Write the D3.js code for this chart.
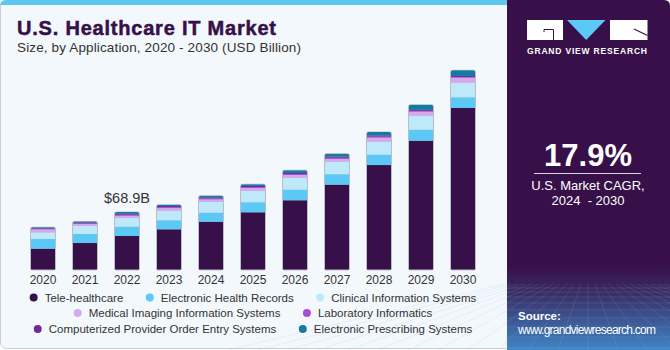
<!DOCTYPE html>
<html>
<head>
<meta charset="utf-8">
<script src="https://cdn.jsdelivr.net/npm/d3@7"></script>
<style>
  body { margin: 0; background: #fff; }
  text { font-family: "Liberation Sans", Arial, sans-serif; }
</style>
</head>
<body>
<div id="chart"></div>
<script>
/* U.S. Healthcare IT Market, stacked bars by application */

const years = ["2020", "2021", "2022", "2023", "2024", "2025", "2026", "2027", "2028", "2029", "2030"];
const seriesNames = ["Tele-healthcare", "Electronic Health Records", "Clinical Information Systems",
    "Medical Imaging Information Systems", "Laboratory Informatics",
    "Computerized Provider Order Entry Systems", "Electronic Prescribing Systems"];
const colors = ["#37104a", "#5bc8f5", "#bde9fa", "#d7a8ec", "#a64fd6", "#6e2b9e", "#137aa0"];

const teleHealth = [24.9, 31.7, 40.1, 48.1, 57.2, 68.5, 82.9, 101.6, 125.1, 154.2, 193.4];
const ehr        = [11.6, 10.8, 11.1, 10.8, 10.8, 12.0, 12.7, 12.5, 12.3, 13.2, 12.8];
const cis        = [8.0, 9.6, 10.4, 11.5, 13.2, 13.5, 14.0, 15.1, 15.6, 16.8, 17.5];
const miis       = [3.6, 2.4, 2.8, 3.2, 2.8, 3.6, 3.6, 3.2, 5.0, 4.8, 6.0];
const labInf     = [0.8, 1.0, 1.2, 1.2, 1.2, 1.2, 1.2, 1.5, 1.2, 1.0, 0.9];
const cpoe       = [0.7, 0.9, 1.1, 1.2, 1.2, 1.2, 1.2, 1.2, 1.2, 1.2, 1.2];
const eRx        = [1.0, 1.2, 2.2, 1.6, 2.0, 2.0, 3.2, 3.6, 4.4, 6.0, 6.8];

const labelYear = "2022";
const legendRows = [[0, 1, 2], [3, 4], [5, 6]];

const width = 670, height = 350;

const allSeries = [teleHealth, ehr, cis, miis, labInf, cpoe, eRx];
const table = years.map((yr, i) => {
    const row = { year: yr };
    seriesNames.forEach((s, k) => row[s] = allSeries[k][i]);
    return row;
});

const svg = d3.select("#chart").append("svg")
    .attr("width", width)
    .attr("height", height);

const defs = svg.append("defs");

// ---- panels
svg.append("rect")
    .attr("x", 0.5).attr("y", 0.5)
    .attr("width", 512).attr("height", 348)
    .attr("rx", 6)
    .attr("fill", "#f3f8fc")
    .attr("stroke", "#c9cdd3");

svg.append("path")
    .attr("d", "M0,6 Q0,0 6,0 H508 V5 H0 Z")
    .attr("fill", "#5fc6ef");

let grad = defs.append("linearGradient")
    .attr("id", "sideGrad")
    .attr("x1", 0).attr("y1", 0).attr("x2", 0).attr("y2", 1);
grad.append("stop").attr("offset", "0%").attr("stop-color", "#37104a");
grad.append("stop").attr("offset", "76%").attr("stop-color", "#37104a");
grad.append("stop").attr("offset", "84%").attr("stop-color", "#3a2e66");
grad.append("stop").attr("offset", "100%").attr("stop-color", "#3f86c6");

svg.append("path")
    .attr("d", "M507,0 H664 Q670,0 670,6 V350 H507 Z")
    .attr("fill", "url(#sideGrad)");

// decorative grid at bottom of side panel
const grid = svg.append("g")
    .attr("stroke", "#9fb6e6")
    .attr("stroke-opacity", 0.22)
    .attr("stroke-width", 0.7);
[288, 292, 297, 303, 310, 318, 327, 337, 348].forEach(gy => {
    grid.append("line").attr("x1", 507).attr("x2", 670).attr("y1", gy).attr("y2", gy);
});
d3.range(-12, 13).forEach(k => {
    grid.append("line")
        .attr("x1", 588 + k * 7).attr("y1", 284)
        .attr("x2", 588 + k * 30).attr("y2", 350);
});

// ---- titles
svg.append("text")
    .attr("x", 17).attr("y", 35)
    .attr("font-size", 20)
    .attr("font-weight", 900)
    .attr("fill", "#37104a")
    .attr("stroke", "#37104a")
    .attr("stroke-width", 0.5)
    .attr("textLength", 259)
    .text("U.S. Healthcare IT Market");

svg.append("text")
    .attr("x", 17).attr("y", 52)
    .attr("font-size", 13.5)
    .attr("fill", "#333")
    .attr("textLength", 284)
    .text("Size, by Application, 2020 - 2030 (USD Billion)");

// ---- scales
const x = d3.scaleBand()
    .domain(years)
    .range([22, 22 + 42 * years.length])
    .paddingInner(0.4286)
    .paddingOuter(0.2143);

const y = d3.scaleLinear()
    .domain([0, 240])
    .range([269.5, 69.1]);

const color = d3.scaleOrdinal().domain(seriesNames).range(colors);

const stacked = d3.stack().keys(seriesNames)(table);
const totals = table.map(d => d3.sum(seriesNames, s => d[s]));

// rounded-top clip for each bar
years.forEach((yr, i) => {
    defs.append("clipPath").attr("id", "clip" + yr)
        .append("rect")
        .attr("x", x(yr))
        .attr("y", y(totals[i]))
        .attr("width", x.bandwidth())
        .attr("height", y(0) - y(totals[i]) + 4)
        .attr("rx", 2);
});

// outline behind bars
svg.append("g").selectAll("rect")
    .data(years)
    .join("rect")
    .attr("x", d => x(d) - 1)
    .attr("y", (d, i) => y(totals[i]) - 0.5)
    .attr("width", x.bandwidth() + 2)
    .attr("height", (d, i) => y(0) - y(totals[i]) + 1.5)
    .attr("rx", 2.5)
    .attr("fill", "#b9bccb");

let barGroups = svg.append("g").selectAll("g")
    .data(years)
    .join("g")
    .attr("clip-path", d => `url(#clip${d})`);

barGroups.selectAll("rect")
    .data((yr, i) => stacked.map(s => ({ key: s.key, year: yr, v: s[i] })))
    .join("rect")
    .attr("x", d => x(d.year))
    .attr("width", x.bandwidth())
    .attr("y", d => y(d.v[1]))
    .attr("height", d => y(d.v[0]) - y(d.v[1]))
    .attr("fill", d => color(d.key));

// year labels
svg.append("g")
    .attr("transform", `translate(0,${y(0)})`)
    .call(d3.axisBottom(x).tickSize(0).tickPadding(6))
    .call(g => g.select(".domain").remove())
    .call(g => g.selectAll("text")
        .attr("font-family", "Liberation Sans, Arial, sans-serif")
        .attr("font-size", 12)
        .attr("fill", "#333"));

// value annotation
const li = years.indexOf(labelYear);
svg.append("text")
    .attr("x", x(labelYear) + x.bandwidth() / 2)
    .attr("y", y(totals[li]) - 9)
    .attr("text-anchor", "middle")
    .attr("font-size", 14.5)
    .attr("fill", "#333")
    .text("$" + totals[li].toFixed(1) + "B");

// ---- legend
const legend = svg.append("g").attr("font-size", 11.5).attr("fill", "#333");
const rowY = [297.5, 313, 329];
legendRows.forEach((row, r) => {
    const items = row.map(k => {
        const g = legend.append("g");
        g.append("circle").attr("r", 4).attr("fill", colors[k]);
        const t = g.append("text").attr("x", 11).attr("dy", "0.35em").text(seriesNames[k]);
        return { g, w: 11 + t.node().getComputedTextLength() };
    });
    const gap = 26.5;
    const total = d3.sum(items, d => d.w) + gap * (items.length - 1) + 4;
    let cx = 253 - total / 2 + 4;
    items.forEach(it => {
        it.g.attr("transform", `translate(${cx},${rowY[r]})`);
        cx += it.w + gap;
    });
});

// ---- side panel: logo
const logo = svg.append("g");
logo.append("rect").attr("x", 527).attr("y", 20).attr("width", 36).attr("height", 20).attr("fill", "#fff");
logo.append("path").attr("d", "M544,32 V29.5 H553.5 V40")
    .attr("fill", "none").attr("stroke", "#37104a").attr("stroke-width", 1);
logo.append("path").attr("d", "M567,20 H605.5 L586.2,40 Z").attr("fill", "#5bc8f5");
logo.append("rect").attr("x", 610).attr("y", 20).attr("width", 37.5).attr("height", 20).attr("fill", "#fff");
logo.append("path").attr("d", "M634,29 L647.5,35.5")
    .attr("stroke", "#37104a").attr("stroke-width", 1.2);
logo.append("text")
    .attr("x", 527).attr("y", 53.5)
    .attr("font-size", 8.5)
    .attr("font-weight", "bold")
    .attr("fill", "#fff")
    .attr("textLength", 120)
    .text("GRAND VIEW RESEARCH");

// CAGR
svg.append("text")
    .attr("x", 588).attr("y", 165.5)
    .attr("text-anchor", "middle")
    .attr("font-size", 31)
    .attr("font-weight", "bold")
    .attr("fill", "#fff")
    .text("17.9%");

svg.append("line")
    .attr("x1", 534).attr("x2", 641)
    .attr("y1", 173.5).attr("y2", 173.5)
    .attr("stroke", "#d8d0de").attr("stroke-width", 1);

svg.append("text")
    .attr("x", 588).attr("y", 190)
    .attr("text-anchor", "middle")
    .attr("font-size", 13)
    .attr("fill", "#fff")
    .text("U.S. Market CAGR,");

svg.append("text")
    .attr("x", 588).attr("y", 205)
    .attr("text-anchor", "middle")
    .attr("font-size", 13)
    .attr("fill", "#fff")
    .style("white-space", "pre")
    .text("2024  - 2030");

svg.append("text")
    .attr("x", 518).attr("y", 320)
    .attr("font-size", 11.5)
    .attr("font-weight", "bold")
    .attr("fill", "#fff")
    .text("Source:");

svg.append("text")
    .attr("x", 518).attr("y", 333.5)
    .attr("font-size", 12)
    .attr("fill", "#fff")
    .attr("textLength", 138)
    .text("www.grandviewresearch.com");
</script>
</body>
</html>
